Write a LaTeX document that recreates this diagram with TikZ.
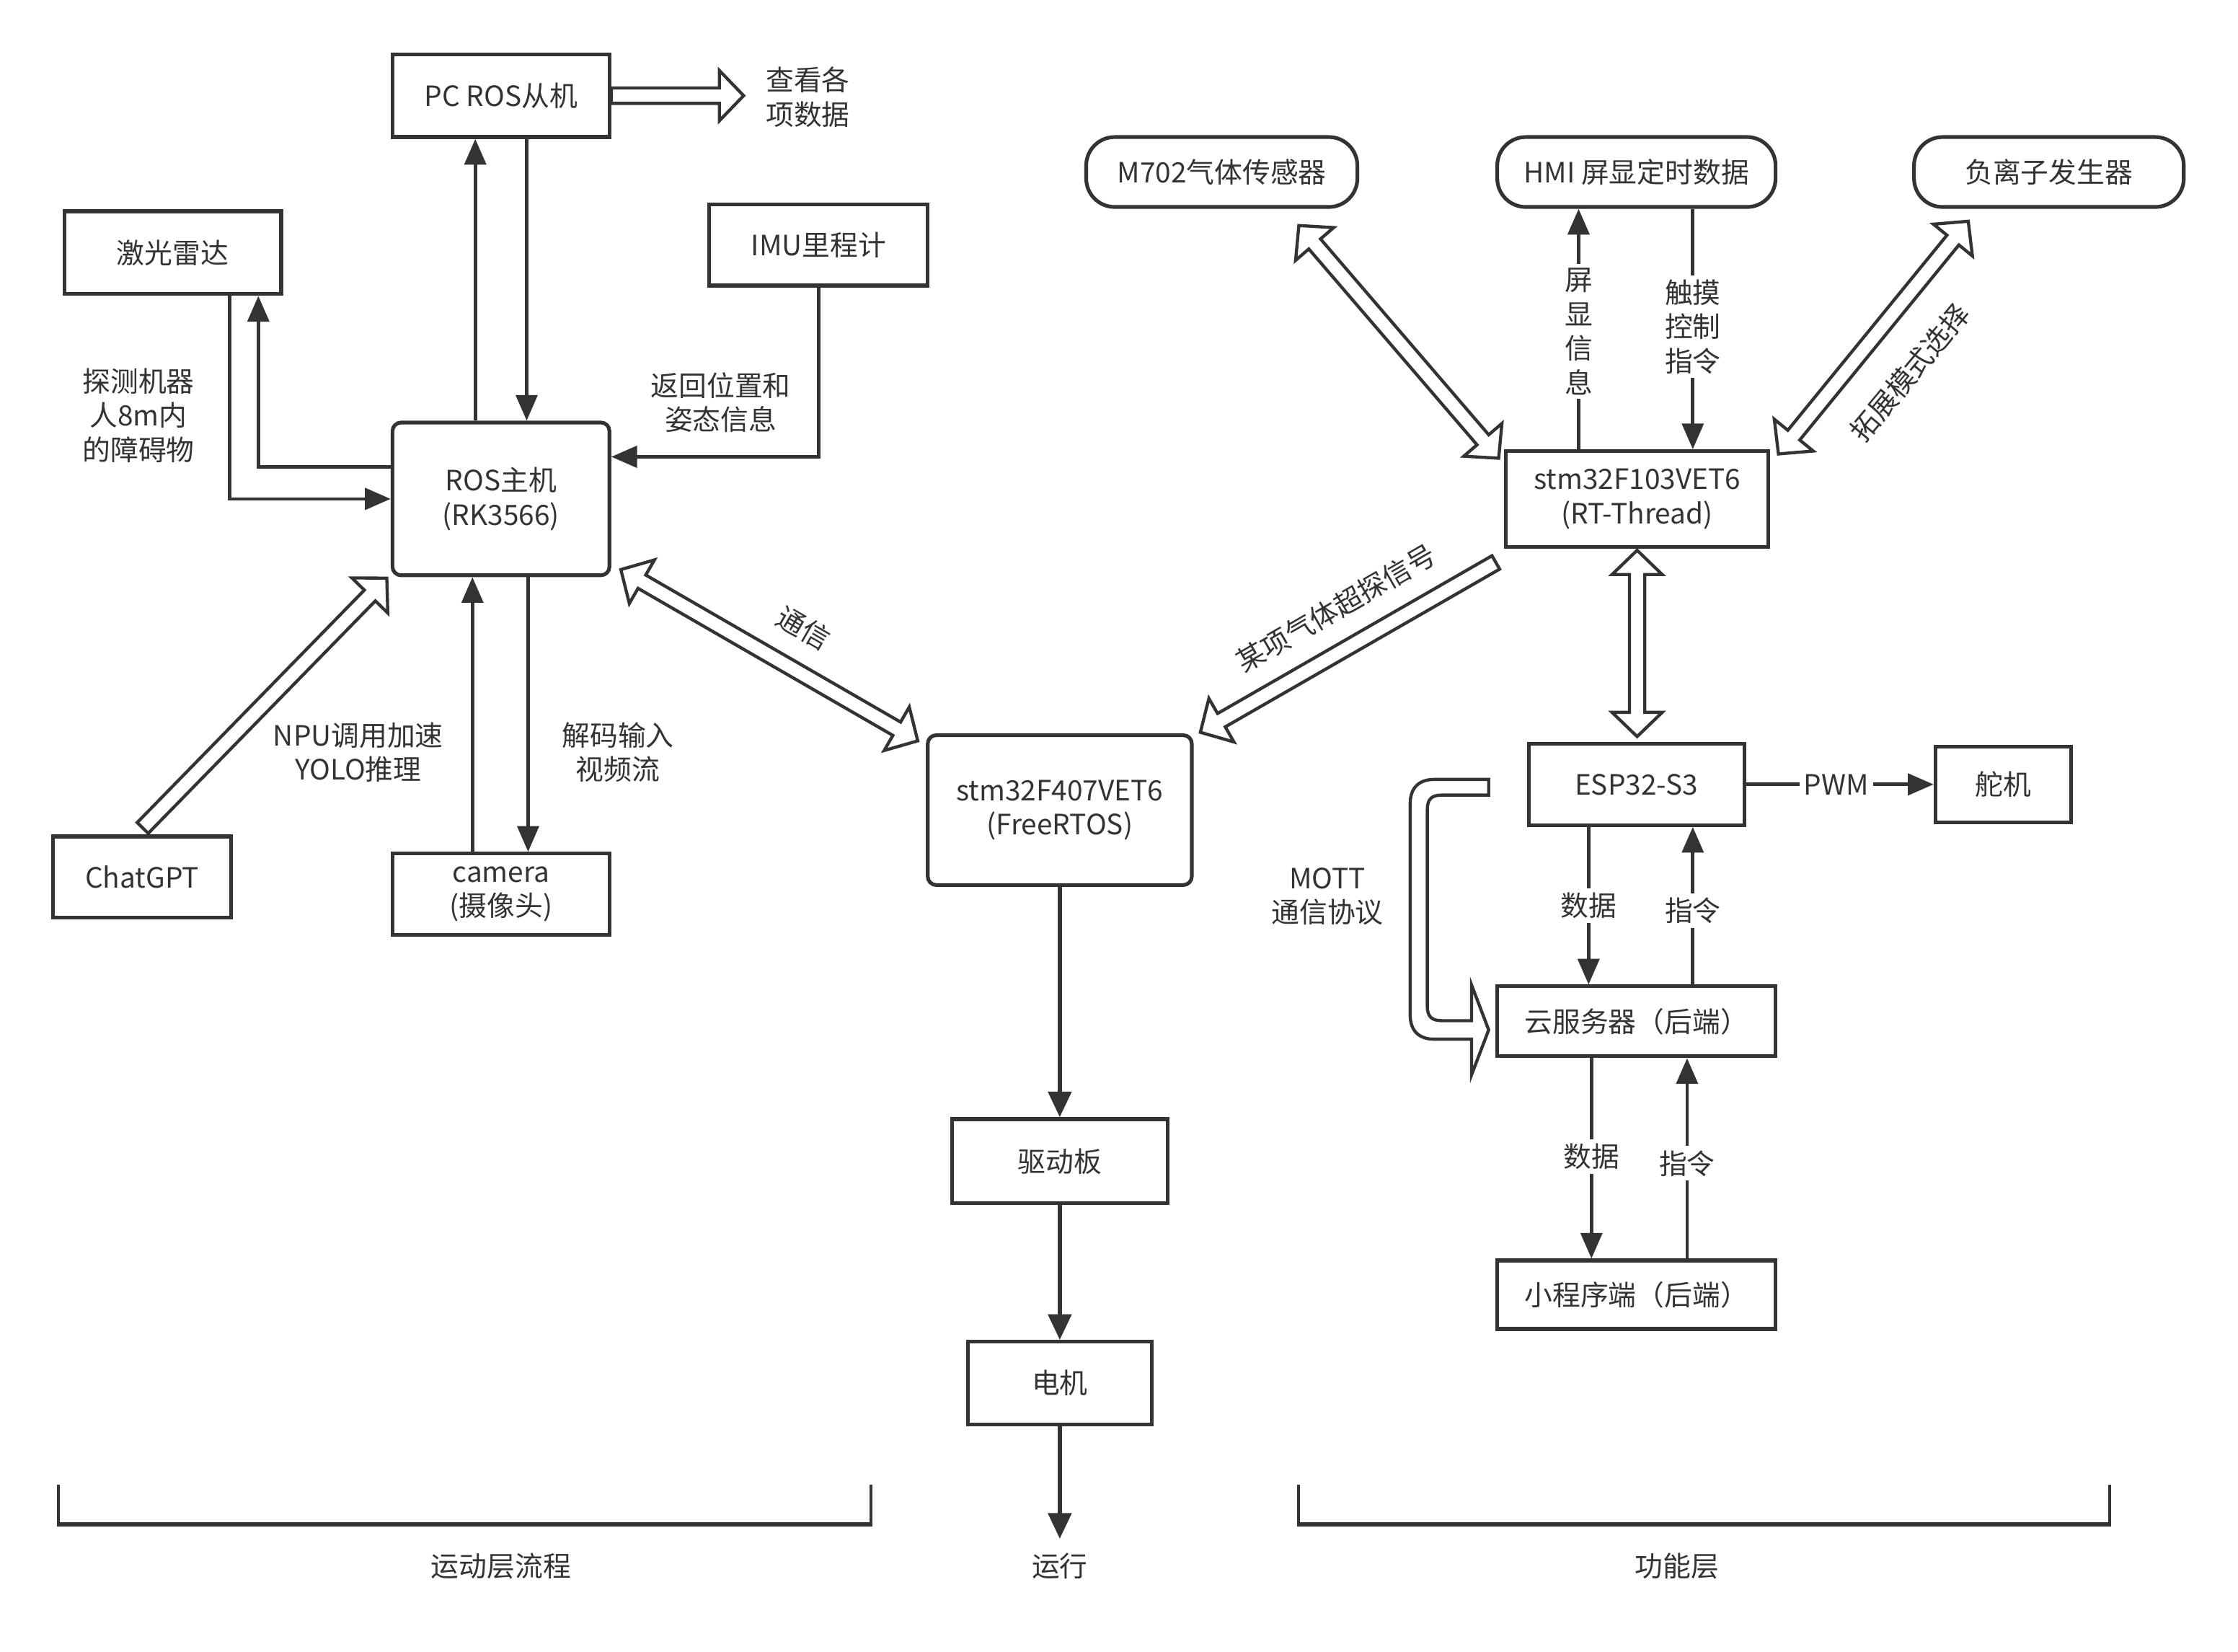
\documentclass[tikz,border=0pt]{standalone}
\usepackage{fontspec}
\setmainfont{Noto Sans CJK SC}
\usetikzlibrary{calc,arrows.meta}
\definecolor{ink}{HTML}{333333}
% single hollow arrow from #1 to #2
\newcommand\myHArrow[2]{%
  \coordinate (hC) at ($(#2)!8.5pt!(#1)$);
  \draw[hollow] ($(#1)!2.7pt!90:(#2)$) -- ($(hC)!2.7pt!90:(#2)$) -- ($(hC)!8.8pt!90:(#2)$) -- (#2)
    -- ($(hC)!8.8pt!-90:(#2)$) -- ($(hC)!2.7pt!-90:(#2)$) -- ($(#1)!2.7pt!-90:(#2)$) -- cycle;}
% double hollow arrow between #1 and #2
\newcommand\myHDArrow[2]{%
  \coordinate (hC) at ($(#2)!8.5pt!(#1)$);
  \coordinate (hD) at ($(#1)!8.5pt!(#2)$);
  \draw[hollow] ($(hD)!2.7pt!90:(#2)$) -- ($(hC)!2.7pt!90:(#2)$) -- ($(hC)!8.8pt!90:(#2)$) -- (#2)
    -- ($(hC)!8.8pt!-90:(#2)$) -- ($(hC)!2.7pt!-90:(#2)$) -- ($(hD)!2.7pt!-90:(#2)$)
    -- ($(hD)!8.8pt!-90:(#2)$) -- (#1) -- ($(hD)!8.8pt!90:(#2)$) -- cycle;}
\begin{document}
\begin{tikzpicture}[x=0.5pt,y=-0.5pt,
  every node/.style={text=ink, font=\fontsize{9.8pt}{12pt}\selectfont},
  box/.style={draw=ink, line width=1.3pt, fill=white, inner sep=0pt, align=center},
  rbox/.style={box, rounded corners=3pt},
  pill/.style={box, rounded corners=10pt},
  arr/.style={draw=ink, line width=1.2pt, -{Triangle[length=9pt,width=7.5pt]}},
  tharr/.style={draw=ink, line width=1.6pt, -{Triangle[length=9pt,width=8pt]}},
  lbl/.style={fill=white, inner sep=1.5pt, align=center},
  txt/.style={align=center, inner sep=0pt},
  hollow/.style={draw=ink, line width=1.1pt, fill=white, line join=miter},
]
\useasboundingbox[fill=white] (0,0) rectangle (1568,1157);

% ---------- left: motion layer ----------
\node[box, minimum width=76pt, minimum height=29pt] (pc) at (351,67) {PC ROS从机};
\node[box, minimum width=76pt, minimum height=29pt] (laser) at (121,177) {激光雷达};
\node[box, minimum width=76.5pt, minimum height=28.5pt] (imu) at (573.5,171.5) {IMU里程计};
\node[rbox, minimum width=76pt, minimum height=53.5pt] (ros) at (351,349.5) {ROS主机\\(RK3566)};
\node[box, minimum width=62.5pt, minimum height=28.5pt] (gpt) at (99.5,614.5) {ChatGPT};
\node[box, minimum width=76pt, minimum height=28.5pt] (cam) at (351,626.5) {camera\\(摄像头)};

% ---------- centre ----------
\node[rbox, minimum width=92.5pt, minimum height=52.5pt] (f407) at (742.5,567.5) {stm32F407VET6\\(FreeRTOS)};
\node[box, minimum width=75.5pt, minimum height=29.5pt] (drv) at (742.5,813.5) {驱动板};
\node[box, minimum width=64.5pt, minimum height=29pt] (motor) at (742.5,969) {电机};
\coordinate (runend) at (742.5,1078);

% ---------- right: function layer ----------
\node[pill, minimum width=95pt, minimum height=24.5pt] (m702) at (856,120.5) {M702气体传感器};
\node[pill, minimum width=97.5pt, minimum height=24.5pt] (hmi) at (1146.5,120.5) {HMI 屏显定时数据};
\node[pill, minimum width=94.5pt, minimum height=24.5pt] (ion) at (1435.5,120.5) {负离子发生器};
\node[box, minimum width=92pt, minimum height=33.5pt] (f103) at (1147,349.5) {stm32F103VET6\\(RT-Thread)};
\node[box, minimum width=75.5pt, minimum height=28.5pt] (esp) at (1146.5,549.5) {ESP32-S3};
\node[box, minimum width=47.5pt, minimum height=26.5pt] (servo) at (1403.5,549.5) {舵机};
\node[box, minimum width=97.5pt, minimum height=24.5pt] (cloud) at (1146.5,715.5) {云服务器（后端）};
\node[box, minimum width=97.5pt, minimum height=24pt] (mini) at (1146.5,907) {小程序端（后端）};

% ---------- filled-arrow connectors ----------
\draw[arr] ($(ros.north)+(-18,0)$) -- ($(pc.south)+(-18,0)$);
\draw[arr] ($(pc.south)+(18,0)$) -- ($(ros.north)+(18,0)$);
\draw[arr] ($(ros.west)+(0,-22.5)$) -| ($(laser.south)+(60,0)$);
\draw[arr] ($(laser.south)+(40,0)$) |- (ros.west);
\draw[arr] (imu.south) |- ($(ros.east)+(0,-29.5)$);
\draw[arr] ($(cam.north)+(-20,0)$) -- ($(ros.south)+(-20,0)$);
\draw[arr] ($(ros.south)+(19,0)$) -- ($(cam.north)+(19,0)$);

\draw[tharr] (f407.south) -- (drv.north);
\draw[tharr] (drv.south) -- (motor.north);
\draw[tharr] (motor.south) -- (runend);

\draw[arr] ($(f103.north)+(-41,0)$) -- node[lbl, pos=0.49] (lscr) {屏\\显\\信\\息} ($(hmi.south)+(-40.5,0)$);
\draw[arr] ($(hmi.south)+(39.5,0)$) -- node[lbl, pos=0.49] (ltouch) {触摸\\控制\\指令} ($(f103.north)+(39,0)$);
\draw[arr] (esp.east) -- node[lbl, pos=0.48] (lpwm) {PWM} (servo.west);
\draw[arr] ($(esp.south)+(-33.5,0)$) -- node[lbl, pos=0.5] (ld1) {数据} ($(cloud.north)+(-33.5,0)$);
\draw[arr] ($(cloud.north)+(39.5,0)$) -- node[lbl, pos=0.47] (lc1) {指令} ($(esp.south)+(39.5,0)$);
\draw[arr] ($(cloud.south)+(-31.5,0)$) -- node[lbl, pos=0.49] (ld2) {数据} ($(mini.north)+(-31.5,0)$);
\draw[arr] ($(mini.north)+(35.5,0)$) -- node[lbl, pos=0.475] (lc2) {指令} ($(cloud.south)+(35.5,0)$);

% ---------- hollow arrows ----------
\coordinate (viewtip) at (521,67);
\myHArrow{pc.east}{viewtip}
\coordinate (gptA) at (100,580);
\coordinate (gptB) at (271,405);
\myHArrow{gptA}{gptB}
\coordinate (comA) at (435,399);
\coordinate (comB) at (643,519);
\myHDArrow{comA}{comB}
\coordinate (gasA) at (1048,394);
\coordinate (gasB) at (841,513);
\myHArrow{gasA}{gasB}
\coordinate (m7A) at (910,158);
\coordinate (m7B) at (1050,321);
\myHDArrow{m7A}{m7B}
\coordinate (ionA) at (1379,155);
\coordinate (ionB) at (1246,318);
\myHDArrow{ionA}{ionB}
\coordinate (espA) at (1147,385.5);
\coordinate (espB) at (1147,516);
\myHDArrow{espA}{espB}

% MQTT curved hollow arrow
\draw[hollow] (1043,546) -- (1005,546) .. controls (994,546) and (988,552) .. (988,563)
  -- (988,711) .. controls (988,722) and (994,728) .. (1005,728) -- (1031,728) -- (1031,753)
  -- (1043,721.5) -- (1031,690) -- (1031,715) -- (1010,715)
  .. controls (1003,715) and (1000,712) .. (1000,705) -- (1000,567)
  .. controls (1000,560) and (1003,557) .. (1010,557) -- (1043,557) -- cycle;

% ---------- free labels ----------
\node[txt] (lview) at (566,68) {查看各\\项数据};
\node[txt] (ldet) at (97,291) {探测机器\\人8m内\\的障碍物};
\node[txt] (lret) at (505,282) {返回位置和\\姿态信息};
\node[txt] (lnpu) at (251,527) {NPU调用加速\\YOLO推理};
\node[txt] (ldec) at (433,527) {解码输入\\视频流};
\node[txt, rotate=-30] (lcom) at (563,440) {通信};
\node[txt, rotate=30] (lgas) at (936,426) {某项气体超探信号};
\node[txt, rotate=50] (lext) at (1338,261) {拓展模式选择};
\node[txt] (lmq) at (930,628) {MOTT\\通信协议};

% ---------- brackets and layer labels ----------
\draw[draw=ink, line width=1pt] (41,1040) -- (41,1068);
\draw[draw=ink, line width=1pt] (610,1040) -- (610,1068);
\draw[draw=ink, line width=1.6pt] (40,1068) -- (611,1068);
\draw[draw=ink, line width=1pt] (910,1040) -- (910,1068);
\draw[draw=ink, line width=1pt] (1478,1040) -- (1478,1068);
\draw[draw=ink, line width=1.6pt] (909,1068) -- (1479,1068);
\node[txt] (lmove) at (351,1097) {运动层流程};
\node[txt] (lrun) at (742.5,1097) {运行};
\node[txt] (lfunc) at (1175,1097) {功能层};
\end{tikzpicture}
\end{document}
